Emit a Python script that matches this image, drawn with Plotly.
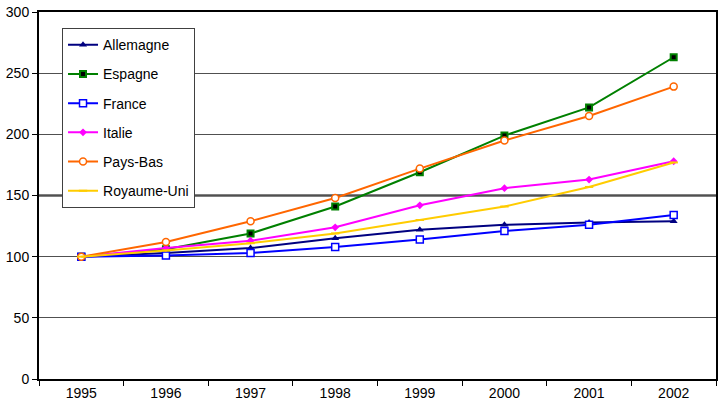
import plotly.graph_objects as go

years = ["1995", "1996", "1997", "1998", "1999", "2000", "2001", "2002"]
allemagne = [100, 103, 107, 115, 122, 126, 128, 129]
espagne = [100, 106, 119, 141, 169, 199, 222, 263]
france = [100, 101, 103, 108, 114, 121, 126, 134]
italie = [100, 107, 113, 124, 142, 156, 163, 178]
pays_bas = [100, 112, 129, 148, 172, 195, 215, 239]
royaume_uni = [100, 105, 111, 119, 130, 141, 157, 177]
y_ticks = [0, 50, 100, 150, 200, 250, 300]

series = [
    ("Allemagne", allemagne, "#000080", dict(symbol="triangle-up", size=7, color="#000080")),
    ("Espagne", espagne, "#008000", dict(symbol="square", size=6, color="#000000", line=dict(color="#008000", width=2))),
    ("France", france, "#0000FF", dict(symbol="square", size=7, color="#FFFFFF", line=dict(color="#0000FF", width=1.5))),
    ("Italie", italie, "#FF00FF", dict(symbol="diamond", size=6, color="#FF00FF")),
    ("Pays-Bas", pays_bas, "#FF6600", dict(symbol="circle", size=7, color="#FFFFFF", line=dict(color="#FF6600", width=1.5))),
    ("Royaume-Uni", royaume_uni, "#FFCC00", dict(symbol="line-ew", size=6, color="#FFCC00", line=dict(color="#FFCC00", width=2))),
]

fig = go.Figure()
for name, vals, col, mk in series:
    fig.add_trace(go.Scatter(
        x=years, y=vals, name=name, mode="lines+markers",
        line=dict(color=col, width=2), marker=mk, legendgroup=name,
    ))

font = dict(family="Liberation Sans, Arial, sans-serif", size=14, color="#000000")

fig.update_layout(
    width=723, height=415,
    margin=dict(l=39, r=7, t=12, b=36, autoexpand=False),
    paper_bgcolor="#FFFFFF", plot_bgcolor="#FFFFFF",
    font=font,
    showlegend=True,
    legend=dict(
        x=0.034, y=0.956, xanchor="left", yanchor="top",
        bgcolor="#FFFFFF", bordercolor="#404040", borderwidth=1,
        font=dict(family="Liberation Sans, Arial, sans-serif", size=14, color="#000000"),
        tracegroupgap=8, traceorder="grouped",
        itemwidth=30,
    ),
    xaxis=dict(
        type="category", range=[-0.5, 7.5], automargin=False,
        showline=True, linecolor="#000000", linewidth=2, mirror=True,
        ticks="outside", tickson="boundaries", ticklen=5, tickcolor="#000000", tickwidth=1,
        showgrid=False, zeroline=False, tickfont=font,
    ),
    yaxis=dict(
        range=[0, 300], tickvals=y_ticks, ticktext=[str(v) for v in y_ticks], automargin=False,
        showline=True, linecolor="#000000", linewidth=2, mirror=True,
        ticks="outside", ticklen=5, tickcolor="#000000", tickwidth=1,
        showgrid=True, gridcolor="#505050", gridwidth=1, zeroline=False, tickfont=font,
    ),
)

fig.add_shape(type="line", xref="paper", yref="y", x0=0, x1=1, y0=150, y1=150,
              line=dict(color="#000000", width=2), layer="between")

fig.write_html(
    "out.html",
    config={"displayModeBar": False},
    post_script="document.body.style.margin='0';document.body.style.overflow='hidden';",
)
